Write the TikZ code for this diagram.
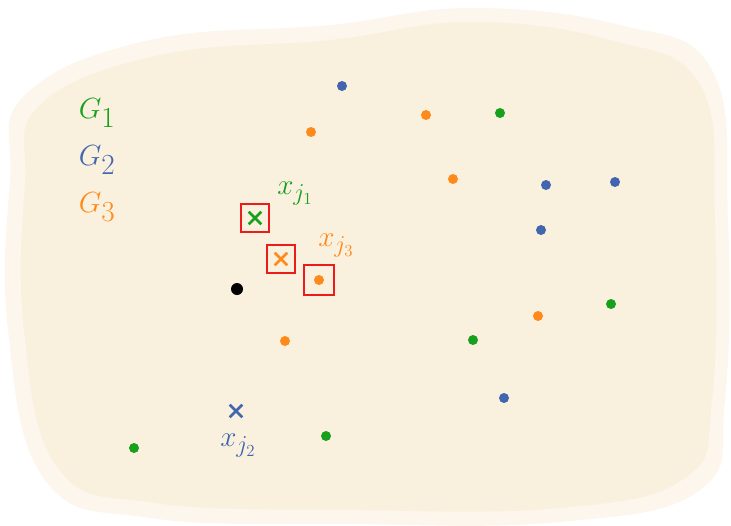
\documentclass[tikz,border=0pt]{standalone}
\usepackage{tikz}
\usetikzlibrary{shapes.misc}
\definecolor{Paper}{HTML}{FAF0DE}
\definecolor{PaperEdge}{HTML}{FCF6EC}
\definecolor{GrpOne}{HTML}{17A01C}
\definecolor{GrpTwo}{HTML}{4266AE}
\definecolor{GrpThree}{HTML}{FF8A1C}
\definecolor{Pick}{HTML}{EC1C1C}
\tikzset{
  dot/.style={circle,fill,inner sep=0pt,minimum size=3mm},
  pick/.style={draw=Pick,line width=2.2pt,minimum size=8.4mm,inner sep=0pt},
  xmark/.style={cross out,draw,line width=2.2pt,minimum size=3mm,inner sep=0pt},
  grplab/.style={font=\fontsize{40}{40}\selectfont},
  ptlab/.style={font=\fontsize{28}{28}\selectfont}
}
\begin{document}
\begin{tikzpicture}[x=0.03cm,y=-0.03cm]
    \useasboundingbox (0,0) rectangle (731,525);
    % paper
    \fill[PaperEdge] plot[smooth cycle,tension=.7] coordinates
      {(25,95) (150,40) (330,25) (470,8) (620,25) (712,70) (728,220) (725,400) (700,490) (560,522) (350,524) (150,518) (45,480) (8,330) (10,180)};
    \fill[Paper] plot[smooth cycle,tension=.7] coordinates
      {(40,105) (160,55) (330,40) (470,22) (610,40) (700,85) (715,220) (712,400) (685,478) (560,508) (350,510) (155,503) (58,468) (24,330) (25,185)};
    % groups
    \node[grplab,text=GrpOne] (gone) at (97,113) {$G_1$};
    \node[grplab,text=GrpTwo] (gtwo) at (97,160) {$G_2$};
    \node[grplab,text=GrpThree] (gthree) at (97,207) {$G_3$};
    % group 1
    \node[dot,GrpOne] (a1) at (500,113) {};
    \node[dot,GrpOne] (a2) at (611,304) {};
    \node[dot,GrpOne] (a3) at (473,340) {};
    \node[dot,GrpOne] (a4) at (326,436) {};
    \node[dot,GrpOne] (a5) at (134,448) {};
    % group 2
    \node[dot,GrpTwo] (b1) at (342,86) {};
    \node[dot,GrpTwo] (b2) at (546,185) {};
    \node[dot,GrpTwo] (b3) at (615,182) {};
    \node[dot,GrpTwo] (b4) at (541,230) {};
    \node[dot,GrpTwo] (b5) at (504,398) {};
    % group 3
    \node[dot,GrpThree] (c1) at (311,132) {};
    \node[dot,GrpThree] (c2) at (426,115) {};
    \node[dot,GrpThree] (c3) at (453,179) {};
    \node[dot,GrpThree] (c4) at (538,316) {};
    \node[dot,GrpThree] (c5) at (285,341) {};
    % query
    \node[dot,black,minimum size=3.6mm] (q) at (237,289) {};
    % chosen
    \node[pick] (s1) at (255,218) {};
    \node[xmark,GrpOne] (x1) at (s1) {};
    \node[pick] (s2) at (281,259) {};
    \node[xmark,GrpThree] (x3) at (s2) {};
    \node[pick,minimum size=9mm] (s3) at (319,280) {};
    \node[dot,GrpThree] (c6) at (s3) {};
    \node[xmark,GrpTwo] (x2) at (236,411) {};
    \node[ptlab,text=GrpOne] (lone) at (295,194) {$x_{j_1}$};
    \node[ptlab,text=GrpThree] (lthree) at (336,246) {$x_{j_3}$};
    \node[ptlab,text=GrpTwo] (ltwo) at (238,446) {$x_{j_2}$};
  \end{tikzpicture}
\end{document}
